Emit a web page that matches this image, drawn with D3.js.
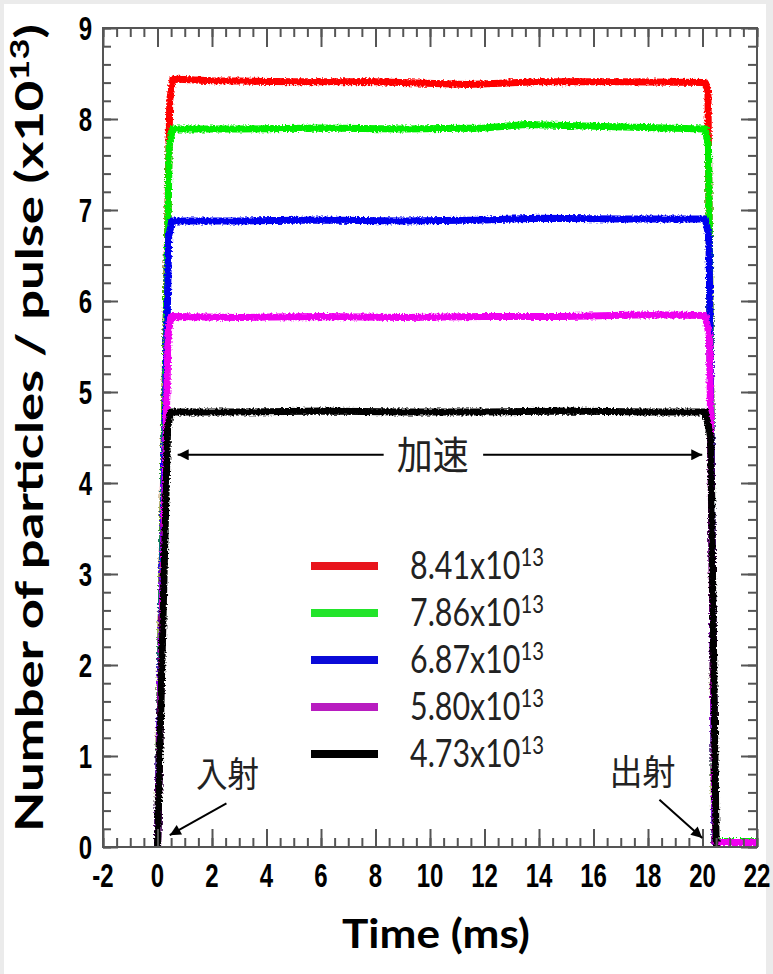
<!DOCTYPE html>
<html>
<head>
<meta charset="utf-8">
<script src="https://cdn.jsdelivr.net/npm/d3@7"></script>
<style>
	body { margin: 0; background: #ebebeb; }
	svg { display: block; }
</style>
</head>
<body>
<div id="chart"></div>
<script>
// legend labels (mantissa, the exponent is always 13) and colours
var labels = ["8.41", "7.86", "6.87", "5.80", "4.73"];
var colors = ["#ff0000", "#00ee00", "#0000f0", "#f000f0", "#000000"];
var legendColors = ["#e8141c", "#22e42a", "#0a0ad8", "#b81cc0", "#000000"];

// traces, [time (ms), particles (x10^13)]
var red = [[0, 0], [0.45, 8.2], [0.56, 8.44], [2, 8.42], [5, 8.41], [8, 8.41], [11.4, 8.38], [14, 8.41], [17, 8.41], [20.1, 8.4], [20.2, 8.3], [20.45, 0.06], [22, 0.06]];
var green = [[0, 0], [0.43, 7.7], [0.54, 7.89], [3, 7.89], [6, 7.9], [9, 7.89], [12, 7.9], [13.5, 7.94], [16, 7.92], [20.1, 7.89], [20.22, 7.7], [20.45, 0.06], [22, 0.06]];
var blue = [[0, 0], [0.41, 6.7], [0.52, 6.88], [3, 6.88], [6, 6.89], [9, 6.88], [12, 6.89], [14, 6.91], [17, 6.9], [20.1, 6.9], [20.24, 6.7], [20.46, 0.05], [22, 0.05]];
var magenta = [[0, 0], [0.39, 5.65], [0.5, 5.83], [3, 5.82], [6, 5.83], [9, 5.82], [12, 5.83], [15, 5.83], [18, 5.85], [20.1, 5.84], [20.26, 5.6], [20.47, 0.05], [22, 0.05]];
var black = [[0, 0], [0.37, 4.6], [0.48, 4.78], [3, 4.78], [6, 4.79], [9, 4.78], [12, 4.78], [15, 4.79], [18, 4.78], [20.1, 4.78], [20.3, 4.5], [20.5, 0.05], [20.6, 0.05]];
var traces = [red, green, blue, magenta, black];

var xTicks = d3.range(-2, 23, 2);
var yTicks = d3.range(0, 10, 1);

var W = 773, H = 974;
var margin = { top: 28, right: 13, bottom: 127, left: 103 };

var svg = d3.select("#chart").append("svg")
	.attr("width", W)
	.attr("height", H);

// white sheet inside a thin grey frame
svg.append("rect")
	.attr("x", 4).attr("y", 4)
	.attr("width", 762).attr("height", H - 4)
	.style("fill", "#fff");

var defs = svg.append("defs");
// rough edge for the noisy traces
var f = defs.append("filter").attr("id", "rough")
	.attr("filterUnits", "userSpaceOnUse")
	.attr("x", 0).attr("y", 0).attr("width", W).attr("height", H);
f.append("feTurbulence").attr("type", "fractalNoise")
	.attr("baseFrequency", 0.55).attr("numOctaves", 1).attr("seed", 3).attr("result", "n");
f.append("feDisplacementMap").attr("in", "SourceGraphic").attr("in2", "n")
	.attr("scale", 5).attr("xChannelSelector", "R").attr("yChannelSelector", "G");

defs.append("marker").attr("id", "arr")
	.attr("viewBox", "0 0 10 10")
	.attr("refX", 10).attr("refY", 5)
	.attr("markerWidth", 15).attr("markerHeight", 11)
	.attr("markerUnits", "userSpaceOnUse")
	.attr("orient", "auto")
	.append("path").attr("d", "M0,0L10,5L0,10z").style("fill", "#000");

var x = d3.scaleLinear().domain([-2, 22]).range([margin.left, W - margin.right - 3]);
var y = d3.scaleLinear().domain([0, 9]).range([H - margin.bottom, margin.top]);

// squeeze a text to a given width, optionally stretching it vertically
function fitWidth(sel, w, sy) {
	var bw = sel.node().getBBox().width;
	sel.attr("transform", "scale(" + (w / bw) + "," + (sy || 1) + ")");
}

// traces
var line = d3.line()
	.x(function (d) { return x(d[0]); })
	.y(function (d) { return y(d[1]); });

svg.append("g").attr("filter", "url(#rough)")
	.selectAll("path")
	.data(traces)
	.enter()
	.append("path")
	.attr("d", line)
	.style("fill", "none")
	.style("stroke", function (d, i) { return colors[i]; })
	.style("stroke-width", 7)
	.style("stroke-linejoin", "round");

// axes: inward ticks on all four sides, labels drawn separately
var axisColor = "#555";
function ticks(g) {
	g.select(".domain").remove();
	g.selectAll("line").style("stroke", axisColor).style("stroke-width", 2);
	g.selectAll("text").remove();
}
var xMinor = d3.range(-2, 22.01, 0.5);
var yMinor = d3.range(0, 9.01, 0.2);

svg.append("g").attr("transform", "translate(0," + y(0) + ")")
	.call(d3.axisBottom(x).tickValues(xMinor).tickSize(-9)).call(ticks);
svg.append("g").attr("transform", "translate(0," + y(0) + ")")
	.call(d3.axisBottom(x).tickValues(xTicks).tickSize(-18)).call(ticks);
svg.append("g").attr("transform", "translate(0," + y(9) + ")")
	.call(d3.axisTop(x).tickValues(xMinor).tickSize(-9)).call(ticks);
svg.append("g").attr("transform", "translate(0," + y(9) + ")")
	.call(d3.axisTop(x).tickValues(xTicks).tickSize(-19)).call(ticks);
svg.append("g").attr("transform", "translate(" + x(-2) + ",0)")
	.call(d3.axisLeft(y).tickValues(yMinor).tickSize(-8)).call(ticks);
svg.append("g").attr("transform", "translate(" + x(-2) + ",0)")
	.call(d3.axisLeft(y).tickValues(yTicks).tickSize(-15)).call(ticks);
svg.append("g").attr("transform", "translate(" + x(22) + ",0)")
	.call(d3.axisRight(y).tickValues(yMinor).tickSize(-9)).call(ticks);
svg.append("g").attr("transform", "translate(" + x(22) + ",0)")
	.call(d3.axisRight(y).tickValues(yTicks).tickSize(-16)).call(ticks);

svg.append("rect")
	.attr("x", x(-2)).attr("y", y(9))
	.attr("width", x(22) - x(-2)).attr("height", y(0) - y(9))
	.style("fill", "none")
	.style("stroke", axisColor)
	.style("stroke-width", 2);

// tick labels (narrow bold)
var tickFont = "'Liberation Sans', Arial, sans-serif";
svg.append("g").selectAll("g")
	.data(xTicks)
	.enter().append("g")
	.attr("transform", function (d) { return "translate(" + x(d) + "," + (y(0) + 40) + ")"; })
	.append("text")
	.attr("text-anchor", "middle")
	.attr("transform", "scale(0.8,1.1)")
	.style("font-family", tickFont).style("font-weight", "bold").style("font-size", "30px")
	.text(function (d) { return d; });

svg.append("g").selectAll("g")
	.data(yTicks)
	.enter().append("g")
	.attr("transform", function (d) { return "translate(" + (x(-2) - 11) + "," + (y(d) + 12) + ")"; })
	.append("text")
	.attr("text-anchor", "end")
	.attr("transform", "scale(0.8,1.1)")
	.style("font-family", tickFont).style("font-weight", "bold").style("font-size", "30px")
	.text(function (d) { return d; });

// axis titles
var titleFont = "Lato, 'Open Sans', sans-serif";
var xt = svg.append("g").attr("transform", "translate(436,948)")
	.append("text")
	.attr("text-anchor", "middle")
	.style("font-family", titleFont).style("font-weight", "bold").style("font-size", "37px")
	.text("Time (ms)");
fitWidth(xt, 188, 1.08);

var yt = svg.append("g").attr("transform", "translate(43,428) rotate(-90)")
	.append("text")
	.attr("text-anchor", "middle")
	.style("font-family", titleFont).style("font-weight", "bold").style("font-size", "39px");
yt.append("tspan").text("Number of particles / pulse (x10");
yt.append("tspan").attr("dy", -14).style("font-size", "27px").text("13");
yt.append("tspan").attr("dy", 14).text(")");
fitWidth(yt, 808);

// legend
var legend = svg.append("g").selectAll("g")
	.data(labels)
	.enter().append("g")
	.attr("transform", function (d, i) { return "translate(311," + (566 + i * 47) + ")"; });
legend.append("line")
	.attr("x1", 0).attr("x2", 67)
	.style("stroke", function (d, i) { return legendColors[i]; })
	.style("stroke-width", 8);
legend.append("g").attr("transform", "translate(99,13)")
	.append("text")
	.style("font-family", titleFont).style("font-size", "33px").style("fill", "#222")
	.each(function (d) {
		var t = d3.select(this);
		t.append("tspan").text(d + "x10");
		t.append("tspan").attr("dy", -11).style("font-size", "22px").text("13");
		fitWidth(t, 134, 1.15);
	});

// annotations
var cjk = "'Noto Sans CJK JP', 'Noto Sans CJK SC', sans-serif";
var accY = 4.31;
svg.append("line")
	.attr("x1", x(8.3)).attr("y1", y(accY)).attr("x2", x(0.74)).attr("y2", y(accY))
	.style("stroke", "#000").style("stroke-width", 2).attr("marker-end", "url(#arr)");
svg.append("line")
	.attr("x1", x(11.95)).attr("y1", y(accY)).attr("x2", x(19.99)).attr("y2", y(accY))
	.style("stroke", "#000").style("stroke-width", 2).attr("marker-end", "url(#arr)");
var acc = svg.append("g").attr("transform", "translate(" + x(10.1) + "," + (y(accY) + 14) + ")")
	.append("text").attr("text-anchor", "middle")
	.style("font-family", cjk).style("font-size", "34px").style("fill", "#222")
	.text("加速");
fitWidth(acc, 72, 1.15);

svg.append("line")
	.attr("x1", x(2.53)).attr("y1", y(0.48)).attr("x2", x(0.45)).attr("y2", y(0.13))
	.style("stroke", "#000").style("stroke-width", 2).attr("marker-end", "url(#arr)");
var inj = svg.append("g").attr("transform", "translate(" + x(2.57) + "," + (y(0.8) + 13) + ")")
	.append("text").attr("text-anchor", "middle")
	.style("font-family", cjk).style("font-size", "31px").style("fill", "#222")
	.text("入射");
fitWidth(inj, 63, 1.12);

svg.append("line")
	.attr("x1", x(18.42)).attr("y1", y(0.52)).attr("x2", x(19.99)).attr("y2", y(0.1))
	.style("stroke", "#000").style("stroke-width", 2).attr("marker-end", "url(#arr)");
var ext = svg.append("g").attr("transform", "translate(" + x(17.8) + "," + (y(0.82) + 13) + ")")
	.append("text").attr("text-anchor", "middle")
	.style("font-family", cjk).style("font-size", "31px").style("fill", "#222")
	.text("出射");
fitWidth(ext, 66, 1.12);
</script>
</body>
</html>
